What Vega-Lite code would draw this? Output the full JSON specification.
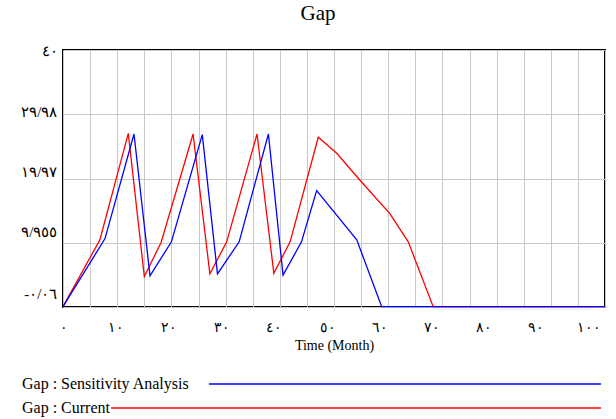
{
  "$schema": "https://vega.github.io/schema/vega-lite/v6.json",
  "width": 542,
  "height": 257,
  "autosize": "none",
  "padding": {"left": 63, "top": 50, "right": 11, "bottom": 112},
  "background": "white",
  "title": {"text": "Gap", "font": "Liberation Serif", "fontSize": 21, "fontWeight": "normal", "color": "black", "anchor": "middle", "offset": 19, "dx": -16},
  "config": {"view": {"stroke": "black", "strokeWidth": 2}},
  "data": {"values": [
    {"s": "Gap : Current", "t": 0, "v": 0},
    {"s": "Gap : Current", "t": 6.8, "v": 10.4},
    {"s": "Gap : Current", "t": 12.05, "v": 27.0},
    {"s": "Gap : Current", "t": 15.0, "v": 4.7},
    {"s": "Gap : Current", "t": 18.1, "v": 10.0},
    {"s": "Gap : Current", "t": 24.0, "v": 26.9},
    {"s": "Gap : Current", "t": 27.1, "v": 5.1},
    {"s": "Gap : Current", "t": 30.2, "v": 10.1},
    {"s": "Gap : Current", "t": 35.8, "v": 26.9},
    {"s": "Gap : Current", "t": 38.9, "v": 5.2},
    {"s": "Gap : Current", "t": 41.9, "v": 10.1},
    {"s": "Gap : Current", "t": 47.1, "v": 26.4},
    {"s": "Gap : Current", "t": 50.5, "v": 23.9},
    {"s": "Gap : Current", "t": 54.8, "v": 19.7},
    {"s": "Gap : Current", "t": 60.3, "v": 14.5},
    {"s": "Gap : Current", "t": 63.7, "v": 10.1},
    {"s": "Gap : Current", "t": 68.3, "v": 0},
    {"s": "Gap : Current", "t": 100, "v": 0},
    {"s": "Gap : Sensitivity Analysis", "t": 0, "v": 0},
    {"s": "Gap : Sensitivity Analysis", "t": 7.75, "v": 10.6},
    {"s": "Gap : Sensitivity Analysis", "t": 13.1, "v": 26.9},
    {"s": "Gap : Sensitivity Analysis", "t": 16.05, "v": 4.8},
    {"s": "Gap : Sensitivity Analysis", "t": 20.0, "v": 10.1},
    {"s": "Gap : Sensitivity Analysis", "t": 25.7, "v": 26.8},
    {"s": "Gap : Sensitivity Analysis", "t": 28.5, "v": 5.1},
    {"s": "Gap : Sensitivity Analysis", "t": 32.5, "v": 10.1},
    {"s": "Gap : Sensitivity Analysis", "t": 37.9, "v": 26.9},
    {"s": "Gap : Sensitivity Analysis", "t": 40.6, "v": 4.9},
    {"s": "Gap : Sensitivity Analysis", "t": 44.0, "v": 10.1},
    {"s": "Gap : Sensitivity Analysis", "t": 46.8, "v": 18.1},
    {"s": "Gap : Sensitivity Analysis", "t": 54.2, "v": 10.4},
    {"s": "Gap : Sensitivity Analysis", "t": 58.8, "v": 0},
    {"s": "Gap : Sensitivity Analysis", "t": 100, "v": 0}
  ]},
  "mark": {"type": "line", "strokeWidth": 1.3},
  "encoding": {
    "x": {
      "field": "t", "type": "quantitative",
      "scale": {"domain": [0, 100], "nice": false, "zero": false},
      "axis": {
        "values": [0,5,10,15,20,25,30,35,40,45,50,55,60,65,70,75,80,85,90,95,100],
        "grid": true, "gridColor": "#c8c8c8", "gridWidth": 1,
        "ticks": false, "domain": false, "labelFlush": false,
        "labelExpr": "datum.value % 10 == 0 ? ['٠','١٠','٢٠','٣٠','٤٠','٥٠','٦٠','٧٠','٨٠','٩٠','١٠٠'][round(datum.value/10)] : ''",
        "labelFont": "Liberation Serif", "labelFontSize": 14, "labelColor": "black",
        "labelPadding": 13,
        "labelOffset": {"condition": [
          {"test": "datum.value >= 95", "value": -17},
          {"test": "datum.value >= 85", "value": -15},
          {"test": "datum.value >= 75", "value": -13},
          {"test": "datum.value >= 65", "value": -11},
          {"test": "datum.value >= 55", "value": -9},
          {"test": "datum.value >= 45", "value": -7},
          {"test": "datum.value >= 35", "value": -6},
          {"test": "datum.value >= 25", "value": -4},
          {"test": "datum.value >= 15", "value": -3},
          {"test": "datum.value >= 5", "value": -2}
        ], "value": 0},
        "title": "Time (Month)", "titleFont": "Liberation Serif", "titleFontSize": 14,
        "titleFontWeight": "normal", "titleColor": "black", "titlePadding": 4
      }
    },
    "y": {
      "field": "v", "type": "quantitative",
      "scale": {"domain": [-0.06, 40], "nice": false, "zero": false},
      "axis": {
        "values": [-0.06, 9.955, 19.97, 29.985, 40],
        "grid": true, "gridColor": "#c8c8c8", "gridWidth": 1,
        "ticks": false, "domain": false, "labelFlush": false,
        "labelExpr": "datum.value < 0 ? '-٠/٠٦' : datum.value < 10 ? '٩/٩٥٥' : datum.value < 20 ? '١٩/٩٧' : datum.value < 30 ? '٢٩/٩٨' : '٤٠'",
        "labelFont": "Liberation Serif", "labelFontSize": 15, "labelColor": "black",
        "labelPadding": 6,
        "labelOffset": {"condition": [
          {"test": "datum.value < 0", "value": -14},
          {"test": "datum.value < 10", "value": -11},
          {"test": "datum.value < 20", "value": -7},
          {"test": "datum.value < 30", "value": -3}
        ], "value": 0},
        "title": null
      }
    },
    "color": {
      "field": "s", "type": "nominal",
      "scale": {"domain": ["Gap : Sensitivity Analysis", "Gap : Current"], "range": ["#0000ff", "#ff0000"]},
      "legend": {
        "orient": "none", "legendX": 334, "legendY": 326, "direction": "vertical",
        "title": null, "padding": 0,
        "symbolType": "M-40,0L40,0", "symbolSize": 96, "symbolStrokeWidth": 1.5,
        "labelFont": "Liberation Serif", "labelFontSize": 16, "labelColor": "black",
        "labelOffset": -391, "labelAlign": "left", "rowPadding": 8, "labelLimit": 0,
        "encode": {"symbols": {"update": {"shape": {"signal": "datum.value === 'Gap : Current' ? 'M-60,0L40,0' : 'M-40,0L40,0'"}}}}
      }
    }
  }
}
